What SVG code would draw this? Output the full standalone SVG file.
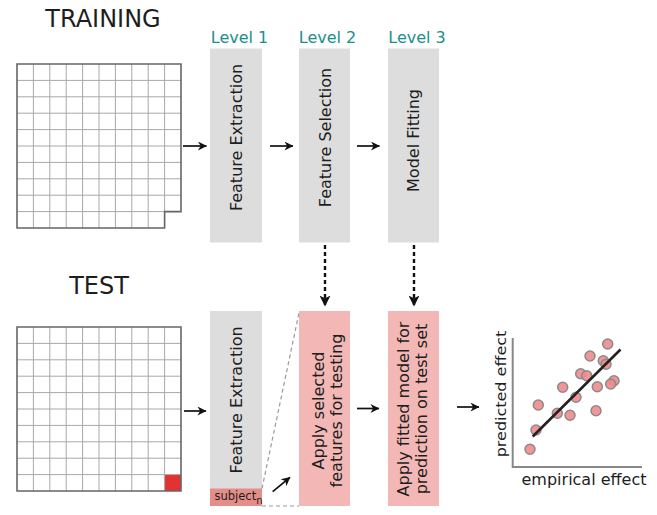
<svg xmlns="http://www.w3.org/2000/svg" width="657" height="515" viewBox="0 0 657 515">
<defs>
<marker id="ah" viewBox="0 0 10 10" refX="9.5" refY="5" markerWidth="10" markerHeight="9" markerUnits="userSpaceOnUse" orient="auto">
<path d="M0,0 L10,5 L0,10 L3,5 z" fill="#111"/>
</marker>
<marker id="ahd" viewBox="0 0 10 10" refX="9.5" refY="5" markerWidth="11" markerHeight="11" markerUnits="userSpaceOnUse" orient="auto">
<path d="M0,0 L10,5 L0,10 L2.5,5 z" fill="#111"/>
</marker>
</defs>
<style>
text{font-family:"DejaVu Sans","Noto Sans",sans-serif;fill:#1e1e1e}
.title{font-size:24px}
.lvl{font-size:16px;fill:#1a8f8c}
.lab{font-size:16px}
.gray{fill:#dddddd}
.pink{fill:#f3b8b5}
.grid{fill:none;stroke:#a8a8a8;stroke-width:1}
.border{fill:none;stroke:#666;stroke-width:1.6}
.arr{stroke:#111;stroke-width:1.7;fill:none;marker-end:url(#ah)}
.darr{stroke:#111;stroke-width:2.4;fill:none;stroke-dasharray:4 3;marker-end:url(#ahd)}
.gdash{stroke:#9a9a9a;stroke-width:1.2;fill:none;stroke-dasharray:4 3}
.pt{fill:#f28a8c;fill-opacity:0.9;stroke:#8a8a8a;stroke-width:1.5}
.axis{stroke:#888;stroke-width:2;fill:none}
</style>
<rect width="657" height="515" fill="#ffffff"/>

<g id="training-label"><text class="title" x="103" y="27" text-anchor="middle">TRAINING</text></g>
<g id="test-label"><text class="title" x="99" y="294" text-anchor="middle">TEST</text></g>

<g id="training-grid">
<path class="grid" d="M33.4,64V228M49.8,64V228M66.2,64V228M82.6,64V228M99,64V228M115.4,64V228M131.8,64V228M148.2,64V228M164.6,64V228M17,80.4H181M17,96.8H181M17,113.2H181M17,129.6H181M17,146H181M17,162.4H181M17,178.8H181M17,195.2H181M17,211.6H181"/>
<path class="border" d="M17,64H181V211.6H164.6V228H17Z"/>
</g>

<g id="test-grid">
<rect x="164.6" y="474.6" width="16.4" height="16.4" fill="#e33232"/>
<path class="grid" d="M33.4,327V491M49.8,327V491M66.2,327V491M82.6,327V491M99,327V491M115.4,327V491M131.8,327V491M148.2,327V491M164.6,327V491M17,343.4H181M17,359.8H181M17,376.2H181M17,392.6H181M17,409H181M17,425.4H181M17,441.8H181M17,458.2H181M17,474.6H181"/>
<path class="border" d="M17,327H181V491H17Z"/>
</g>

<g id="level-labels">
<text class="lvl" x="239.5" y="43" text-anchor="middle">Level 1</text>
<text class="lvl" x="327.5" y="43" text-anchor="middle">Level 2</text>
<text class="lvl" x="417" y="43" text-anchor="middle">Level 3</text>
</g>

<g id="train-feature-extraction">
<rect class="gray" x="210" y="48.5" width="52" height="194"/>
<text class="lab" transform="translate(241.5,137.5) rotate(-90)" text-anchor="middle">Feature Extraction</text>
</g>
<g id="train-feature-selection">
<rect class="gray" x="299" y="48.5" width="51" height="194"/>
<text class="lab" transform="translate(330.5,137.5) rotate(-90)" text-anchor="middle">Feature Selection</text>
</g>
<g id="train-model-fitting">
<rect class="gray" x="388" y="48.5" width="51" height="194"/>
<text class="lab" transform="translate(418.5,140.5) rotate(-90)" text-anchor="middle">Model Fitting</text>
</g>

<g id="test-feature-extraction">
<rect class="gray" x="210" y="311" width="52" height="195"/>
<rect x="210" y="488.5" width="52" height="17.5" fill="#e58d88"/>
<text class="lab" transform="translate(241.5,400) rotate(-90)" text-anchor="middle">Feature Extraction</text>
<text x="214.5" y="500" font-size="11.5">subject<tspan font-size="10" dy="3.5">n</tspan></text>
</g>
<g id="test-apply-features">
<rect class="pink" x="299" y="311" width="51" height="195"/>
<text class="lab" transform="translate(323.5,410.5) rotate(-90)" text-anchor="middle">Apply selected</text>
<text class="lab" transform="translate(341.5,410.5) rotate(-90)" text-anchor="middle">features for testing</text>
</g>
<g id="test-apply-model">
<rect class="pink" x="388" y="311" width="51" height="195"/>
<text class="lab" transform="translate(408.5,409) rotate(-90)" text-anchor="middle">Apply fitted model for</text>
<text class="lab" transform="translate(426.5,409) rotate(-90)" text-anchor="middle">prediction on test set</text>
</g>

<g id="scatter-plot">
<path class="axis" d="M512.7,338V467H642"/>
<circle class="pt" cx="607.7" cy="344" r="5"/>
<circle class="pt" cx="590" cy="356" r="5"/>
<circle class="pt" cx="603.3" cy="360.7" r="5"/>
<circle class="pt" cx="606" cy="364.3" r="5"/>
<circle class="pt" cx="580.7" cy="373.7" r="5"/>
<circle class="pt" cx="586.7" cy="375.7" r="5"/>
<circle class="pt" cx="614" cy="380.7" r="5"/>
<circle class="pt" cx="610.7" cy="384" r="5"/>
<circle class="pt" cx="597.3" cy="386.7" r="5"/>
<circle class="pt" cx="562.7" cy="387.3" r="5"/>
<circle class="pt" cx="576" cy="397.3" r="5"/>
<circle class="pt" cx="538.3" cy="405" r="5"/>
<circle class="pt" cx="557.3" cy="413.3" r="5"/>
<circle class="pt" cx="570" cy="415.3" r="5"/>
<circle class="pt" cx="596" cy="410.7" r="5"/>
<circle class="pt" cx="536" cy="430" r="5"/>
<circle class="pt" cx="530" cy="449.3" r="5"/>
<line x1="532.7" y1="436.5" x2="620.5" y2="349.5" stroke="#222" stroke-width="2.6"/>
<text class="lab" transform="translate(506,394) rotate(-90) scale(1,0.85)" text-anchor="middle">predicted effect</text>
<text class="lab" x="584" y="484.5" text-anchor="middle">empirical effect</text>
</g>

<g id="connectors">
<line class="arr" x1="183" y1="146" x2="206.5" y2="146"/>
<line class="arr" x1="270" y1="146" x2="293" y2="146"/>
<line class="arr" x1="357" y1="146" x2="379.5" y2="146"/>
<line class="arr" x1="184" y1="411" x2="206" y2="411"/>
<line class="arr" x1="357" y1="408.5" x2="379" y2="408.5"/>
<line class="arr" x1="457" y1="407" x2="479" y2="407"/>
<line class="arr" x1="272.7" y1="491.7" x2="290" y2="477.3"/>
<line class="darr" x1="325" y1="245" x2="325" y2="306"/>
<line class="darr" x1="414" y1="245" x2="414" y2="306"/>
<line class="gdash" x1="262" y1="488.5" x2="299.3" y2="311.5"/>
<line class="gdash" x1="262" y1="506" x2="299" y2="506"/>
</g>
</svg>
